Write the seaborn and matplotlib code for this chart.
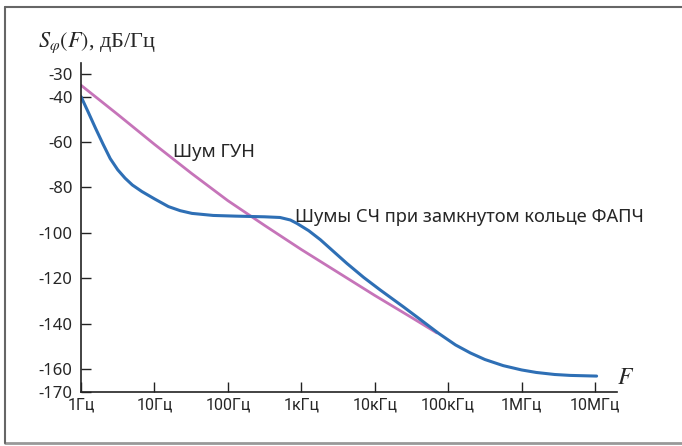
import seaborn as sns
import matplotlib.pyplot as plt
import matplotlib.lines as mlines
import pandas as pd

# phase noise, dB/Hz
vco_freq = [1, 3.2, 10, 32, 100, 320, 1000, 3200, 10000, 32000, 70000]
vco_db = [-35, -48, -61, -73.8, -85.8, -96.8, -107.3, -117.5, -127.5, -137.3, -144]

pll_freq = [1, 1.26, 1.58, 2.0, 2.5, 3.16, 3.98, 5.0, 6.76, 10, 15.5, 22.4,
            32.4, 63, 126, 316, 513, 708, 871, 1260, 1820, 2820, 4170, 7080,
            11750, 24500, 39800, 74100, 126000, 200000, 316000, 562000, 1e6,
            1.58e6, 2.82e6, 4.57e6, 1.05e7]
pll_db = [-40, -47, -54, -61, -67.3, -72.2, -75.9, -78.9, -81.8, -85, -88.4,
          -90.2, -91.4, -92.3, -92.6, -92.9, -93.2, -94.3, -95.8, -99, -103,
          -108.5, -113.4, -119.6, -125, -132.5, -137.6, -144.2, -149.3,
          -152.8, -155.7, -158.4, -160.3, -161.4, -162.3, -162.7, -163]

xtick_vals = [1, 10, 100, 1e3, 1e4, 1e5, 1e6, 1e7]
xtick_labels = ['1Гц', '10Гц', '100Гц', '1кГц', '10кГц', '100кГц', '1МГц', '10МГц']
ytick_vals = [-30, -40, -60, -80, -100, -120, -140, -160, -170]

vco = pd.DataFrame({'F': vco_freq, 'S': vco_db})
pll = pd.DataFrame({'F': pll_freq, 'S': pll_db})

sns.set_style('white')
plt.rcParams['font.family'] = ['Noto Sans', 'DejaVu Sans']
plt.rcParams['mathtext.fontset'] = 'stix'

fig = plt.figure(figsize=(6.82, 4.46), dpi=100)
ax = fig.add_axes([0.1188, 0.1211, 0.786, 0.7377])

sns.lineplot(data=vco, x='F', y='S', ax=ax, color='#c674b9', lw=2)
sns.lineplot(data=pll, x='F', y='S', ax=ax, color='#2e6fb5', lw=2.2)

ax.set_xscale('log')
ax.set_xlim(1, 10 ** 7.3)
ax.set_ylim(-170, -25.2)
ax.set_xticks(xtick_vals)
ax.set_xticklabels(xtick_labels, family='Roboto', fontsize=11.5)
ax.minorticks_off()
ax.set_yticks(ytick_vals)
ax.set_yticklabels([str(v) for v in ytick_vals], fontsize=12)
ax.tick_params(direction='in', length=7, width=1, color='#222222',
               bottom=True, left=True)
ax.tick_params(axis='y', pad=6)
ax.tick_params(axis='x', pad=4)
ax.set_xlabel('')
ax.set_ylabel('')
for s in ['top', 'right']:
    ax.spines[s].set_visible(False)
for s in ['left', 'bottom']:
    ax.spines[s].set_color('#222222')
    ax.spines[s].set_linewidth(1.2)

ax.text(17.8, -64.4, 'Шум ГУН', fontsize=13.3, va='center')
ax.text(830, -93, 'Шумы СЧ при замкнутом кольце ФАПЧ', fontsize=13.2, va='center')

fig.text(0.055, 0.905, r'$S_{\varphi}(F)$, дБ/Гц', family='Liberation Serif',
         fontsize=16, va='center')
fig.text(0.905, 0.153, r'$F$', fontsize=17, va='center')

# frame around the picture
fig.add_artist(mlines.Line2D([0.008, 1.0], [0.985, 0.985], color='#666666', lw=1.5))
fig.add_artist(mlines.Line2D([0.008, 1.0], [0.007, 0.007], color='#999999', lw=2))
fig.add_artist(mlines.Line2D([0.008, 0.008], [0.007, 0.985], color='#666666', lw=1.5))

fig.savefig('out.png', dpi=100)
